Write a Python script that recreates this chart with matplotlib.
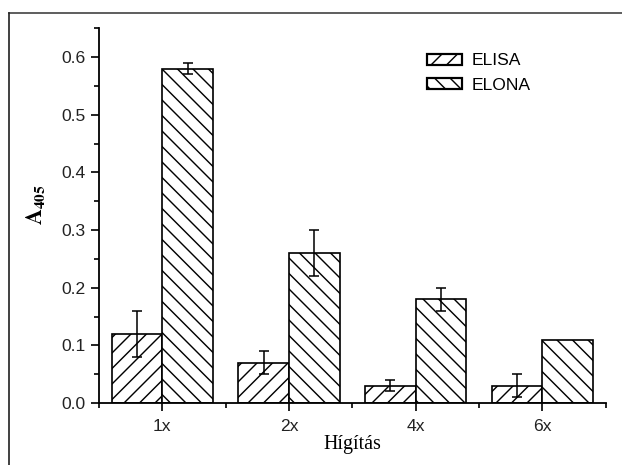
import matplotlib
matplotlib.use("Agg")
import matplotlib.pyplot as plt
import numpy as np
from matplotlib.lines import Line2D
from matplotlib.ticker import MultipleLocator, FixedLocator, FormatStrFormatter

categories = ["1x", "2x", "4x", "6x"]
elisa = [0.12, 0.07, 0.03, 0.03]
elisa_err = [0.04, 0.02, 0.01, 0.02]
elona = [0.58, 0.26, 0.18, 0.11]
elona_err = [0.01, 0.04, 0.02, 0.0]

DPI = 93
plt.rcParams['hatch.linewidth'] = 1.1
plt.rcParams['font.family'] = ['Liberation Sans', 'DejaVu Sans']
plt.rcParams['mathtext.fontset'] = 'stix'

fig = plt.figure(figsize=(622 / DPI, 465 / DPI), dpi=DPI)
ax = fig.add_axes([0.159, 0.1333, 0.815, 0.806])

x = np.arange(len(categories))
w = 0.4
ax.bar(x - w / 2, elisa, w, color='white', edgecolor='black', hatch='//', linewidth=1.3, label='ELISA', zorder=2)
ax.bar(x + w / 2, elona, w, color='white', edgecolor='black', hatch='\\\\', linewidth=1.3, label='ELONA', zorder=2)
ax.errorbar(x - w / 2, elisa, yerr=elisa_err, fmt='none', ecolor='black', elinewidth=1.2, capsize=4, capthick=1.2, zorder=3)
mask = np.array(elona_err) > 0
ax.errorbar((x + w / 2)[mask], np.array(elona)[mask], yerr=np.array(elona_err)[mask], fmt='none', ecolor='black',
            elinewidth=1.2, capsize=4, capthick=1.2, zorder=3)

ax.set_xlim(-0.5, 3.5)
ax.set_ylim(0, 0.65)
ax.set_xticks(x)
ax.set_xticklabels(categories)
ax.xaxis.set_minor_locator(FixedLocator([-0.5, 0.5, 1.5, 2.5, 3.5]))
ax.yaxis.set_major_locator(MultipleLocator(0.1))
ax.yaxis.set_minor_locator(MultipleLocator(0.05))
ax.yaxis.set_major_formatter(FormatStrFormatter('%.1f'))

for s in ['top', 'right']:
    ax.spines[s].set_visible(False)
for s in ['left', 'bottom']:
    ax.spines[s].set_linewidth(1.4)

ax.tick_params(which='major', direction='out', length=6, width=1.3, labelsize=13.5, colors='black',
               labelcolor='#222222', pad=4)
ax.tick_params(axis='x', which='major', pad=6)
ax.tick_params(which='minor', direction='out', length=3.5, width=1.3)

ax.set_xlabel('Hígítás', family=['Liberation Serif'], fontsize=15.5, labelpad=1)
ax.set_ylabel(r'$\mathbf{A}_{\mathbf{405}}$', fontsize=17)
ax.yaxis.set_label_coords(-0.103, 0.53)

leg = ax.legend(loc='upper right', bbox_to_anchor=(0.882, 0.975), frameon=False, fontsize=13.5,
                handlelength=2.0, handleheight=0.6, handletextpad=0.55, labelspacing=0.55)
for p in leg.get_patches():
    p.set_linewidth(1.7)

fig.add_artist(Line2D([9 / 622, 1.0], [1 - 13 / 465, 1 - 13 / 465], transform=fig.transFigure, color='#444444', lw=1.3))
fig.add_artist(Line2D([9 / 622, 9 / 622], [1 - 13 / 465, 0.0], transform=fig.transFigure, color='#222222', lw=1.3))

fig.savefig('out.png', dpi=DPI)
